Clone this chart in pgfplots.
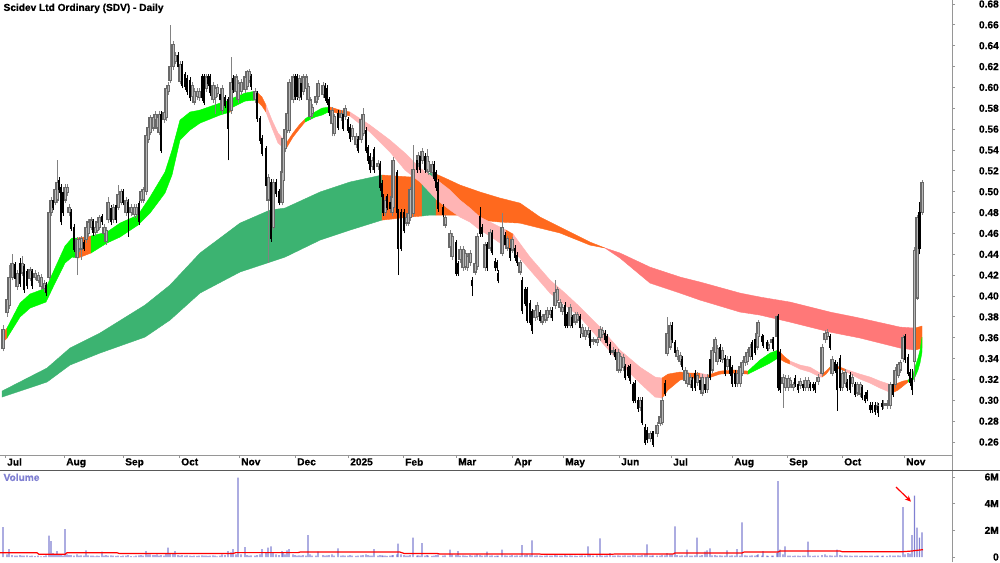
\documentclass[border=0pt]{standalone}
\usepackage{fontspec}
\setmainfont{Liberation Sans}[BoldFeatures={FakeBold=0.6}]
\usepackage{pgfplots}
\usepackage{pgfplotstable}
\pgfplotsset{compat=1.18}
\usetikzlibrary{arrows.meta}
\definecolor{lgreen}{RGB}{60,179,113}
\definecolor{sgreen}{RGB}{0,250,0}
\definecolor{ror}{RGB}{255,105,30}
\definecolor{spink}{RGB}{255,180,180}
\definecolor{lsal}{RGB}{255,120,120}
\definecolor{upgray}{RGB}{105,105,105}
\definecolor{upin}{RGB}{185,185,185}
\definecolor{wickgray}{RGB}{130,130,130}
\definecolor{volc}{RGB}{128,128,210}
\definecolor{axgray}{RGB}{150,150,150}

\pgfplotstableread{
x o h l c v
3 .350 .372 .347 .368 2.25
7 .384 .400 .380 .397 0.2
9 .391 .430 .388 .418 0.6
12 .418 .440 .415 .431 0.15
15 .430 .433 .415 .417 0.1
17 .409 .425 .406 .422 0.1
20 .431 .436 .409 .412 0.15
22 .422 .438 .419 .431 0.1
24 .428 .431 .403 .406 0.1
27 .423 .426 .407 .410 0.12
30 .417 .428 .414 .425 0.08
32 .423 .426 .407 .410 0.1
35 .418 .425 .415 .422 0.06
38 .415 .423 .412 .420 0.1
41 .409 .421 .406 .418 0.05
44 .407 .415 .404 .412 0.06
46 .410 .413 .400 .403 0.12
49 .418 .485 .415 .480 1.6
51 .480 .495 .477 .492 1.2
53 .492 .495 .482 .485 0.3
55 .490 .505 .487 .502 0.2
57 .492 .530 .489 .509 0.45
59 .511 .514 .499 .502 0.15
61 .504 .507 .468 .471 0.2
63 .499 .502 .477 .480 0.1
65 .492 .507 .489 .504 2.1
67 .499 .507 .496 .504 0.2
69 .480 .488 .477 .485 0.15
71 .480 .483 .462 .465 0.15
74 .466 .469 .442 .445 0.1
77 .437 .457 .420 .454 0.2
79 .445 .457 .442 .454 0.1
81 .445 .458 .435 .455 0.12
84 .451 .454 .443 .446 0.1
86 .454 .469 .451 .466 0.5
88 .460 .474 .457 .471 0.12
91 .466 .476 .463 .473 0.1
93 .471 .474 .458 .461 0.1
95 .461 .469 .458 .466 0.05
97 .463 .474 .460 .471 0.1
99 .466 .478 .463 .475 0.08
102 .476 .479 .468 .471 0.4
104 .460 .469 .457 .466 0.1
106 .452 .466 .449 .463 0.15
108 .473 .495 .470 .490 0.1
111 .484 .487 .468 .471 0.12
113 .473 .488 .470 .485 0.1
116 .487 .490 .470 .473 0.08
118 .485 .506 .482 .497 0.1
121 .490 .503 .487 .500 0.06
123 .500 .503 .487 .490 0.1
126 .480 .495 .477 .492 0.1
128 .490 .493 .457 .480 0.15
131 .480 .488 .477 .485 0.06
134 .478 .488 .475 .485 0.05
136 .478 .488 .475 .485 0.1
139 .489 .492 .468 .471 0.12
141 .492 .503 .489 .500 0.15
143 .492 .505 .489 .502 0.1
146 .500 .556 .497 .554 0.45
148 .550 .565 .547 .562 0.2
150 .557 .574 .554 .571 0.2
153 .561 .574 .558 .571 0.15
155 .569 .577 .566 .574 0.15
157 .561 .574 .558 .571 0.2
159 .557 .577 .554 .574 0.1
161 .574 .577 .537 .540 0.15
164 .569 .579 .566 .576 0.1
166 .571 .602 .568 .599 0.3
168 .596 .605 .593 .602 0.7
170 .607 .660 .604 .620 0.3
173 .620 .645 .617 .641 0.25
175 .625 .634 .622 .631 0.45
178 .631 .634 .617 .620 0.15
180 .606 .625 .603 .622 0.1
182 .622 .625 .599 .602 0.15
185 .612 .615 .598 .601 0.1
187 .609 .612 .593 .596 0.12
190 .607 .610 .587 .590 0.1
192 .591 .605 .588 .602 0.06
194 .586 .599 .583 .596 0.1
197 .591 .599 .588 .596 0.08
199 .590 .599 .587 .596 0.1
202 .610 .613 .587 .590 0.12
204 .610 .613 .583 .586 0.1
206 .599 .613 .596 .610 0.1
208 .610 .613 .601 .604 0.08
210 .610 .613 .592 .595 0.1
213 .588 .605 .585 .602 0.12
215 .590 .602 .575 .599 0.1
217 .594 .603 .591 .600 0.05
220 .593 .596 .585 .588 0.1
222 .578 .602 .575 .599 0.2
225 .590 .593 .580 .583 0.15
228 .588 .591 .530 .561 0.45
231 .578 .629 .575 .605 0.35
233 .609 .612 .595 .598 0.6
236 .596 .613 .593 .610 0.2
238 .588 .607 .585 .604 5.95
241 .596 .608 .593 .605 0.2
245 .598 .613 .595 .610 0.75
247 .601 .617 .598 .615 0.15
249 .607 .618 .604 .615 0.1
251 .610 .613 .598 .601 0.12
255 .588 .599 .585 .596 0.1
257 .594 .597 .567 .570 0.15
260 .570 .573 .546 .549 0.2
262 .551 .554 .534 .537 0.6
266 .541 .544 .503 .506 0.3
268 .492 .517 .432 .514 0.7
271 .509 .512 .452 .455 0.8
273 .466 .512 .463 .509 0.3
276 .509 .512 .495 .498 0.2
279 .500 .503 .487 .490 0.15
282 .490 .522 .487 .519 0.45
283 .511 .554 .508 .551 0.3
285 .541 .563 .538 .560 0.2
287 .559 .578 .556 .575 0.5
289 .559 .608 .556 .605 0.6
293 .588 .613 .585 .610 0.2
295 .610 .613 .588 .591 0.15
297 .610 .613 .588 .591 0.1
299 .590 .612 .587 .609 0.12
301 .604 .607 .588 .591 0.1
303 .596 .613 .593 .610 0.15
306 .599 .613 .596 .610 0.1
308 .588 .604 .585 .601 1.65
310 .572 .591 .569 .588 0.2
312 .575 .584 .572 .581 0.1
316 .586 .594 .583 .591 0.1
318 .591 .607 .588 .604 0.4
323 .593 .605 .590 .602 0.15
325 .601 .604 .587 .590 0.1
327 .599 .602 .583 .586 0.12
329 .588 .591 .573 .576 0.15
332 .565 .581 .553 .578 0.2
334 .556 .575 .553 .572 0.1
338 .575 .578 .559 .562 0.65
341 .571 .578 .568 .575 0.1
343 .574 .577 .558 .561 0.12
345 .572 .583 .569 .580 0.1
348 .569 .572 .556 .559 0.1
350 .562 .565 .548 .551 0.15
352 .553 .564 .550 .561 0.1
356 .545 .556 .542 .553 0.08
358 .550 .553 .537 .540 0.1
361 .550 .572 .547 .569 0.12
363 .556 .580 .553 .574 0.15
366 .559 .562 .537 .540 0.2
368 .542 .545 .527 .530 0.15
370 .534 .537 .518 .521 0.1
372 .524 .533 .521 .530 0.1
374 .540 .543 .518 .521 0.6
378 .524 .530 .521 .527 0.1
380 .526 .529 .501 .504 0.15
382 .508 .511 .492 .495 0.12
383 .495 .498 .477 .480 0.1
385 .480 .495 .477 .492 0.1
387 .495 .498 .482 .485 0.08
390 .490 .493 .481 .484 0.1
392 .480 .498 .477 .495 0.12
393 .485 .533 .482 .530 0.15
397 .518 .521 .477 .480 0.2
398 .480 .483 .420 .446 1.0
401 .480 .483 .443 .446 0.2
404 .480 .483 .460 .463 0.15
406 .470 .478 .467 .475 0.1
408 .470 .482 .467 .479 0.1
410 .475 .505 .472 .502 0.15
413 .479 .545 .476 .521 1.45
417 .530 .533 .518 .521 0.1
418 .527 .538 .524 .535 0.12
420 .534 .537 .518 .521 0.1
422 .530 .542 .527 .539 1.05
425 .534 .537 .518 .521 0.1
427 .521 .541 .518 .534 0.15
428 .519 .532 .516 .529 0.1
432 .518 .529 .515 .526 0.08
434 .526 .529 .510 .513 0.1
436 .518 .521 .501 .504 0.15
438 .509 .512 .481 .484 0.2
443 .485 .488 .475 .478 0.1
445 .468 .478 .465 .475 0.12
450 .447 .463 .444 .460 0.55
452 .438 .460 .435 .457 0.2
456 .451 .454 .419 .422 0.15
458 .431 .434 .419 .422 0.45
460 .435 .448 .432 .445 0.1
463 .427 .448 .424 .445 0.12
465 .428 .444 .425 .441 0.1
467 .427 .441 .424 .438 0.08
470 .432 .444 .429 .441 0.15
472 .415 .418 .400 .410 0.1
475 .423 .434 .420 .431 0.12
477 .428 .460 .425 .457 0.2
480 .476 .485 .457 .460 0.15
482 .466 .469 .457 .460 0.1
485 .427 .452 .424 .449 0.12
487 .449 .452 .424 .427 0.4
490 .446 .464 .443 .461 0.1
492 .460 .463 .439 .442 0.12
495 .433 .436 .424 .427 0.08
497 .432 .435 .424 .427 0.1
498 .422 .425 .412 .415 0.1
502 .441 .480 .438 .466 0.55
505 .458 .461 .446 .449 0.12
507 .446 .458 .443 .455 0.1
510 .446 .449 .434 .437 0.1
512 .444 .457 .441 .454 0.15
515 .446 .449 .434 .437 0.1
517 .439 .442 .429 .432 0.12
520 .423 .435 .420 .432 0.1
522 .415 .418 .383 .386 0.9
525 .406 .409 .390 .393 0.15
527 .406 .409 .374 .377 0.2
530 .393 .396 .372 .375 0.15
532 .385 .388 .364 .367 1.25
535 .379 .389 .376 .386 0.1
537 .380 .394 .377 .391 0.12
540 .384 .387 .374 .377 0.1
542 .375 .383 .372 .380 0.08
545 .377 .385 .374 .382 0.1
547 .379 .389 .376 .386 0.12
550 .382 .389 .379 .386 0.1
552 .386 .389 .376 .379 0.1
555 .391 .415 .388 .403 0.15
557 .396 .409 .393 .406 0.12
560 .389 .397 .386 .394 0.1
562 .385 .392 .382 .389 0.1
565 .391 .394 .369 .372 0.15
567 .382 .385 .369 .372 0.1
570 .372 .392 .369 .389 0.12
572 .379 .382 .369 .372 0.1
575 .375 .385 .372 .382 0.1
577 .377 .385 .374 .382 0.08
580 .380 .383 .360 .370 0.1
582 .364 .373 .361 .370 0.12
585 .361 .370 .358 .367 0.1
588 .363 .370 .360 .367 0.8
590 .364 .367 .350 .353 0.15
593 .356 .361 .353 .358 0.1
597 .355 .361 .352 .358 0.12
600 .360 .371 .357 .368 1.4
602 .363 .370 .360 .367 0.1
605 .364 .367 .355 .358 0.1
607 .361 .364 .352 .355 0.12
610 .353 .356 .343 .346 0.3
613 .346 .351 .343 .348 0.1
615 .346 .349 .339 .342 0.1
618 .329 .349 .326 .346 0.12
620 .329 .345 .326 .342 0.1
623 .331 .344 .328 .341 0.1
625 .332 .335 .319 .322 0.12
628 .331 .334 .321 .324 0.1
630 .332 .335 .316 .319 0.1
633 .315 .318 .297 .300 0.15
635 .316 .319 .297 .300 0.12
638 .300 .303 .289 .292 0.1
640 .293 .303 .290 .300 0.1
642 .300 .303 .276 .279 0.15
645 .274 .277 .257 .260 0.2
647 .271 .274 .259 .262 0.95
650 .263 .271 .260 .268 0.1
652 .268 .271 .260 .263 0.1
653 .268 .271 .255 .258 0.12
657 .268 .279 .265 .276 0.1
660 .278 .287 .275 .284 0.1
662 .279 .303 .276 .300 0.15
665 .316 .319 .304 .307 0.12
667 .345 .380 .342 .364 0.3
670 .351 .375 .348 .372 0.2
672 .372 .375 .355 .358 0.2
675 .355 .358 .343 .346 2.3
677 .342 .351 .339 .348 0.15
680 .337 .346 .334 .343 0.1
682 .339 .342 .329 .332 0.12
685 .319 .332 .316 .329 0.1
687 .316 .329 .313 .326 0.55
690 .315 .325 .312 .322 0.1
692 .319 .322 .309 .312 0.1
695 .326 .329 .309 .312 0.12
697 .317 .327 .314 .324 1.45
700 .319 .322 .307 .310 0.1
702 .307 .325 .304 .322 0.15
705 .315 .318 .307 .310 0.4
707 .310 .325 .307 .322 0.5
710 .339 .342 .319 .322 0.65
712 .329 .351 .326 .348 0.12
715 .346 .361 .343 .358 0.15
717 .337 .353 .334 .350 0.1
720 .351 .354 .337 .340 0.12
722 .339 .351 .336 .348 0.1
725 .340 .343 .323 .326 0.1
727 .332 .342 .329 .339 0.5
730 .339 .342 .323 .326 0.1
732 .331 .334 .313 .316 0.12
735 .326 .329 .313 .316 0.1
737 .316 .329 .313 .326 0.6
740 .316 .335 .313 .332 0.1
742 .326 .339 .323 .336 2.6
745 .336 .345 .333 .342 0.12
747 .337 .349 .334 .346 0.1
750 .342 .354 .339 .351 0.1
752 .355 .358 .339 .342 0.12
755 .358 .361 .343 .346 0.1
757 .351 .367 .348 .364 0.15
758 .361 .377 .358 .375 0.2
762 .361 .364 .353 .356 0.1
763 .360 .363 .350 .353 0.45
767 .355 .358 .347 .350 0.1
768 .350 .356 .347 .353 0.08
772 .355 .361 .352 .358 0.1
773 .358 .361 .347 .350 0.1
777 .361 .382 .358 .380 0.3
778 .380 .383 .309 .312 5.7
780 .346 .349 .307 .310 0.55
783 .316 .325 .293 .322 0.2
785 .312 .324 .309 .321 0.8
788 .312 .324 .309 .321 0.1
790 .315 .322 .312 .319 0.1
793 .312 .318 .309 .315 0.08
795 .321 .324 .313 .316 0.1
798 .315 .318 .307 .310 0.1
800 .314 .321 .311 .318 0.08
803 .315 .318 .309 .312 0.1
805 .312 .322 .309 .319 0.1
808 .312 .322 .309 .319 1.15
810 .315 .318 .309 .312 0.1
813 .315 .318 .309 .312 0.08
815 .315 .318 .307 .310 0.1
818 .318 .325 .315 .322 0.1
822 .326 .354 .323 .351 0.15
825 .358 .367 .355 .364 0.2
827 .361 .368 .358 .365 0.1
830 .361 .364 .348 .351 0.12
832 .326 .342 .323 .339 0.1
835 .336 .339 .326 .329 0.1
837 .334 .337 .290 .310 0.55
840 .340 .343 .309 .312 0.15
842 .312 .329 .309 .326 0.1
845 .316 .330 .313 .327 0.12
847 .317 .320 .309 .312 0.1
850 .324 .327 .307 .310 0.1
852 .316 .325 .313 .322 0.08
855 .315 .318 .303 .306 0.1
857 .307 .318 .304 .315 0.1
860 .306 .318 .303 .315 0.08
862 .312 .315 .300 .303 0.1
865 .305 .308 .297 .300 0.1
867 .307 .310 .299 .302 0.08
870 .295 .298 .288 .291 0.1
872 .295 .298 .288 .291 0.1
875 .295 .298 .286 .289 0.08
877 .291 .298 .288 .295 0.1
878 .294 .297 .284 .288 0.1
882 .297 .300 .291 .294 0.08
883 .295 .300 .292 .297 0.1
887 .295 .300 .292 .297 0.08
890 .295 .318 .292 .315 0.12
893 .315 .318 .303 .306 0.1
895 .315 .332 .312 .329 0.1
898 .324 .337 .321 .334 0.12
900 .329 .339 .326 .336 0.1
903 .340 .363 .337 .360 3.75
905 .361 .364 .336 .339 0.2
908 .341 .344 .323 .326 0.3
910 .327 .330 .314 .317 0.25
912 .321 .330 .305 .310 1.65
914.5 .337 .447 .318 .444 4.6
917 .398 .478 .396 .475 2.2
919.5 .480 .490 .440 .446 1.45
922 .480 .511 .478 .509 1.85
}\candles

\pgfplotsset{
  wick/.style 2 args={draw=none, forget plot,
    restrict expr to domain={\thisrow{c}-\thisrow{o}}{#1},
    error bars/.cd, y dir=plus, y explicit, error mark=none,
    error bar style={draw=#2, line width=0.75pt, solid}},
  body/.style n args={3}{draw=none, forget plot,
    restrict expr to domain={\thisrow{c}-\thisrow{o}}{#1},
    error bars/.cd, y dir=plus, y explicit, error mark=none,
    error bar style={draw=#2, line width=#3, solid}},
  inner/.style={draw=none, forget plot,
    restrict expr to domain={\thisrow{c}-\thisrow{o}}{0.0025:1},
    error bars/.cd, y dir=plus, y explicit, error mark=none,
    error bar style={draw=upin, line width=0.5pt, solid}},
  rib/.style={draw=#1, fill=#1, line width=0.3pt, forget plot},
}

\begin{document}
\begin{tikzpicture}[font=\fontsize{7.6}{9}\selectfont\bfseries]
\fill[white] (0,0) rectangle (750pt,421.5pt);
\useasboundingbox (0,0) rectangle (750pt,421.5pt);

\begin{axis}[at={(0pt,80.25pt)}, anchor=south west, scale only axis,
  width=714pt, height=341.25pt,
  xmin=0, xmax=952, ymin=0.24753, ymax=0.68384,
  axis x line*=bottom, axis y line*=right,
  axis line style={axgray, line width=0.75pt},
  tick align=outside, major tick length=2.25pt,
  tick style={axgray, line width=0.6pt},
  xtick={5,64,123,179,239,295,348,403,456,512,563,619,671,732,787,842,904},
  xticklabels={Jul,Aug,Sep,Oct,Nov,Dec,2025,Feb,Mar,Apr,May,Jun,Jul,Aug,Sep,Oct,Nov},
  xticklabel style={anchor=north west, inner sep=0pt, xshift=1.5pt, yshift=0pt},
  ytick={0.26,0.28,0.30,0.32,0.34,0.36,0.38,0.40,0.42,0.44,0.46,0.48,0.50,0.52,0.54,0.56,0.58,0.60,0.62,0.64,0.66,0.68},
  yticklabels={0.26,0.28,0.30,0.32,0.34,0.36,0.38,0.40,0.42,0.44,0.46,0.48,0.50,0.52,0.54,0.56,0.58,0.60,0.62,0.64,0.66,0.68},
  yticklabel style={anchor=east, inner sep=0pt, xshift=33pt},
]
% long-term ribbon
\addplot[rib=lgreen] coordinates {(2,.3088)(47,.3309)(70,.3501)(100,.3645)(145,.3913)(170,.4105)(200,.4412)(240,.4699)(270,.4824)(285,.4843)(320,.4997)(350,.5093)(382,.5160)(382,.4728)(350,.4632)(320,.4536)(285,.4373)(270,.4325)(240,.4230)(200,.4028)(170,.3769)(145,.3606)(100,.3453)(70,.3338)(47,.3175)(2,.3031)} -- cycle;
\addplot[rib=ror] coordinates {(382,.5160)(410,.5141)(422,.5160)(422,.4767)(410,.4757)(382,.4728)} -- cycle;
\addplot[rib=lgreen] coordinates {(422,.5160)(430,.5179)(436,.5169)(436,.4776)(430,.4776)(422,.4767)} -- cycle;
\addplot[rib=ror] coordinates {(436,.5169)(445,.5131)(460,.5064)(480,.4997)(500,.4939)(520,.4891)(540,.4757)(560,.4661)(590,.4517)(605,.4460)(590,.4488)(560,.4604)(540,.4651)(520,.4699)(500,.4709)(480,.4728)(460,.4776)(436,.4776)} -- cycle;
\addplot[rib=lsal] coordinates {(605,.4460)(620,.4412)(650,.4277)(680,.4182)(700,.4134)(740,.4028)(760,.3990)(790,.3942)(830,.3846)(860,.3788)(900,.3702)(915,.3692)(915,.3481)(900,.3501)(860,.3597)(830,.3654)(790,.3750)(760,.3817)(740,.3846)(700,.3961)(680,.4028)(650,.4124)(620,.4364)(605,.4460)} -- cycle;
\addplot[rib=ror] coordinates {(915,.3692)(922,.3712)(922,.3501)(915,.3481)} -- cycle;
% short-term ribbon
\addplot[rib=ror] coordinates {(3,.3645)(7,.3692)(7,.3597)(3,.3558)} -- cycle;
\addplot[rib=sgreen] coordinates {(7,.3692)(20,.3932)(30,.4019)(46,.4076)(55,.4268)(65,.4479)(72,.4556)(78,.4556)(78,.4364)(72,.4373)(65,.4316)(55,.4124)(46,.3942)(30,.3884)(20,.3798)(7,.3597)} -- cycle;
\addplot[rib=ror] coordinates {(78,.4556)(91,.4575)(91,.4412)(78,.4364)} -- cycle;
\addplot[rib=sgreen] coordinates {(91,.4575)(107,.4613)(120,.4699)(138,.4776)(150,.4949)(165,.5189)(172,.5399)(180,.5687)(190,.5764)(200,.5783)(220,.5850)(230,.5879)(230,.5764)(220,.5735)(200,.5658)(190,.5591)(180,.5495)(172,.5160)(165,.4987)(150,.4795)(138,.4680)(120,.4565)(107,.4508)(91,.4412)} -- cycle;
\addplot[rib=ror] coordinates {(230,.5879)(233,.5898)(233,.5812)(230,.5764)} -- cycle;
\addplot[rib=sgreen] coordinates {(233,.5898)(245,.5946)(256,.5965)(256,.5879)(245,.5869)(233,.5812)} -- cycle;
\addplot[rib=ror] coordinates {(256,.5965)(262,.5908)(266,.5831)(266,.5764)(262,.5821)(256,.5879)} -- cycle;
\addplot[rib=spink] coordinates {(266,.5831)(272,.5687)(278,.5563)(284,.5495)(287,.5476)(287,.5428)(284,.5419)(278,.5467)(272,.5610)(266,.5764)} -- cycle;
\addplot[rib=ror] coordinates {(287,.5476)(293,.5563)(300,.5649)(305,.5697)(305,.5668)(300,.5610)(293,.5524)(287,.5428)} -- cycle;
\addplot[rib=sgreen] coordinates {(305,.5697)(315,.5764)(322,.5802)(330,.5812)(330,.5774)(322,.5735)(315,.5716)(305,.5668)} -- cycle;
\addplot[rib=ror] coordinates {(330,.5812)(340,.5783)(350,.5764)(350,.5726)(340,.5745)(330,.5774)} -- cycle;
\addplot[rib=spink] coordinates {(350,.5764)(370,.5639)(390,.5495)(405,.5371)(420,.5227)(437,.5112)(450,.5016)(460,.4920)(470,.4843)(480,.4757)(490,.4709)(500,.4661)(506,.4632)(506,.4479)(500,.4508)(490,.4575)(480,.4632)(470,.4709)(460,.4757)(450,.4824)(437,.4920)(420,.5093)(405,.5208)(390,.5380)(370,.5572)(350,.5726)} -- cycle;
\addplot[rib=ror] coordinates {(506,.4632)(513,.4594)(513,.4440)(506,.4479)} -- cycle;
\addplot[rib=spink] coordinates {(513,.4594)(530,.4373)(550,.4153)(565,.4028)(580,.3894)(600,.3702)(620,.3481)(640,.3318)(655,.3223)(662,.3213)(662,.3021)(655,.3031)(640,.3165)(620,.3357)(600,.3577)(580,.3798)(565,.3913)(550,.4028)(530,.4249)(513,.4440)} -- cycle;
\addplot[rib=ror] coordinates {(662,.3213)(668,.3251)(680,.3271)(690,.3261)(700,.3261)(700,.3213)(690,.3213)(680,.3194)(668,.3098)(662,.3021)} -- cycle;
\addplot[rib=spink] coordinates {(700,.3261)(708,.3242)(708,.3213)(700,.3213)} -- cycle;
\addplot[rib=ror] coordinates {(708,.3242)(720,.3280)(735,.3290)(748,.3280)(748,.3251)(735,.3261)(720,.3251)(708,.3213)} -- cycle;
\addplot[rib=sgreen] coordinates {(748,.3280)(760,.3386)(770,.3453)(778,.3481)(778,.3405)(770,.3357)(760,.3309)(748,.3251)} -- cycle;
\addplot[rib=ror] coordinates {(778,.3481)(785,.3414)(790,.3376)(790,.3347)(785,.3366)(778,.3405)} -- cycle;
\addplot[rib=spink] coordinates {(790,.3376)(800,.3338)(810,.3318)(820,.3261)(822,.3251)(822,.3223)(820,.3223)(810,.3271)(800,.3299)(790,.3347)} -- cycle;
\addplot[rib=ror] coordinates {(822,.3251)(826,.3280)(830,.3318)(830,.3299)(826,.3251)(822,.3223)} -- cycle;
\addplot[rib=sgreen] coordinates {(830,.3318)(836,.3328)(836,.3309)(830,.3299)} -- cycle;
\addplot[rib=ror] coordinates {(836,.3328)(840,.3318)(845,.3299)(845,.3280)(840,.3299)(836,.3309)} -- cycle;
\addplot[rib=spink] coordinates {(845,.3299)(860,.3251)(870,.3223)(880,.3184)(892,.3146)(892,.3069)(880,.3117)(870,.3165)(860,.3203)(845,.3280)} -- cycle;
\addplot[rib=ror] coordinates {(892,.3146)(898,.3165)(903,.3184)(908,.3194)(908,.3175)(903,.3136)(898,.3098)(892,.3069)} -- cycle;
\addplot[rib=sgreen] coordinates {(908,.3194)(912,.3213)(915,.3318)(918,.3405)(920,.3481)(922,.3606)(922,.3462)(920,.3357)(918,.3290)(915,.3223)(912,.3184)(908,.3175)} -- cycle;

% candles: wicks
\addplot[wick={0:1}{wickgray}] table[x=x, y=l, y error expr=\thisrow{h}-\thisrow{l}] {\candles};
\addplot[wick={-1:-0.00001}{black}] table[x=x, y=l, y error expr=\thisrow{h}-\thisrow{l}] {\candles};
% bodies: up candles hollow (grey outline, light inside), down candles black
\addplot[body={0:1}{upgray}{2.4pt}] table[x=x, y expr=\thisrow{o}-0.0005, y error expr=\thisrow{c}-\thisrow{o}+0.001] {\candles};
\addplot[inner] table[x=x, y expr=\thisrow{o}+0.0006, y error expr=\thisrow{c}-\thisrow{o}-0.0012] {\candles};
\addplot[body={-1:-0.00001}{black}{1.7pt}] table[x=x, y expr=\thisrow{c}-0.0005, y error expr=\thisrow{o}-\thisrow{c}+0.001] {\candles};
\end{axis}

\begin{axis}[at={(0pt,0pt)}, anchor=south west, scale only axis,
  width=714pt, height=69pt,
  xmin=0, xmax=952, ymin=-0.375, ymax=6.525,
  axis x line=none, axis y line*=right, xtick=\empty,
  axis line style={axgray, line width=0.75pt},
  tick align=outside, major tick length=2.25pt,
  tick style={axgray, line width=0.6pt},
  ytick={0,2,4,6}, yticklabels={0,2M,4M,6M},
  yticklabel style={anchor=east, inner sep=0pt, xshift=33pt},
]
\addplot[ybar, bar width=0.8pt, fill=volc, draw=none] table[x=x, y=v] {\candles};
\addplot[red, line width=0.9pt] coordinates {(0,.32)(37,.32)(39,.2)(65,.2)(67,.32)(117,.32)(119,.27)(233,.27)(236,.33)(298,.33)(300,.37)(400,.37)(404,.27)(437,.27)(440,.22)(540,.22)(542,.2)(612,.2)(614,.22)(673,.22)(675,.3)(742,.3)(744,.37)(778,.37)(780,.45)(840,.45)(842,.4)(903,.4)(912,.45)(917,.5)(923,.55)};
\draw[-{Stealth[length=4.5pt,width=4pt]}, red, line width=0.9pt] (axis cs:896,5.25) -- (axis cs:911,4.15);
\end{axis}

\draw[axgray, line width=0.75pt] (714pt,0) -- (714pt,421.5pt);
\draw[black!65, line width=0.75pt] (0,69pt) -- (750pt,69pt);
\node[anchor=north west, inner sep=0pt] at (2.5pt,419pt) {Scidev Ltd Ordinary (SDV) - Daily};
\node[anchor=north west, inner sep=0pt, text=volc] at (2.5pt,66.5pt) {Volume};
\end{tikzpicture}
\end{document}
